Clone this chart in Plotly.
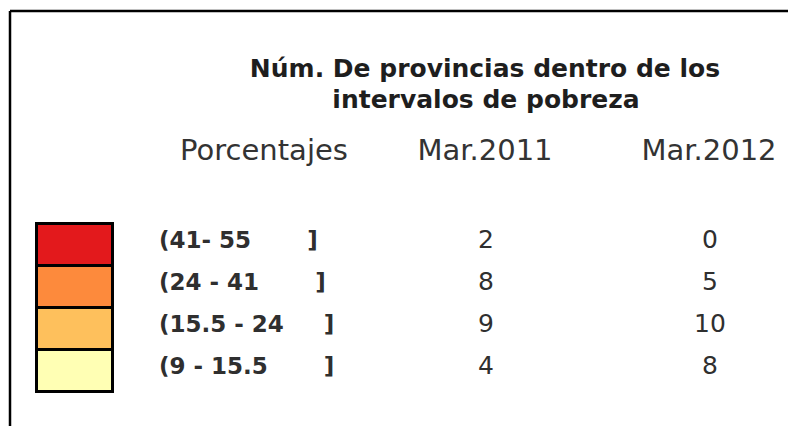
import plotly.graph_objects as go

# ---- data ----
intervals = ["(41- 55       ]", "(24 - 41       ]", "(15.5 - 24     ]", "(9 - 15.5       ]"]
mar2011 = [2, 8, 9, 4]
mar2012 = [0, 5, 10, 8]
colors = ["#E3191C", "#FD8A3C", "#FEC05C", "#FFFFB4"]
col_headers = ["Porcentajes", "Mar.2011", "Mar.2012"]
title_lines = ["Núm. De provincias dentro de los", "intervalos de pobreza"]

# ---- layout positions (page-pixel data coordinates) ----
row_y0 = 245
row_h = 42
rows_y = [row_y0 + i * row_h for i in range(len(intervals))]

txt_color = "#2f2f2f"
FONT = "DejaVu Sans"
PAGE_OFF = 8  # default body margin of the html page

fig = go.Figure()

# colour boxes
fig.add_trace(go.Bar(
    orientation="h",
    y=rows_y, x=[76] * len(rows_y), base=[37] * len(rows_y),
    width=row_h,
    marker=dict(color=colors, line=dict(color="black", width=3)),
    hoverinfo="skip", showlegend=False,
))

# interval labels
fig.add_trace(go.Scatter(
    x=[159] * len(intervals), y=[y - 3 for y in rows_y], mode="text",
    text=[f"<b>{s}</b>" for s in intervals], textposition="middle right",
    textfont=dict(family=FONT, size=23, color=txt_color),
    hoverinfo="skip", showlegend=False,
))

# values
fig.add_trace(go.Scatter(
    x=[486] * len(mar2011), y=[y - 3 for y in rows_y], mode="text",
    text=[str(v) for v in mar2011], textposition="middle center",
    textfont=dict(family=FONT, size=25, color=txt_color),
    hoverinfo="skip", showlegend=False,
))
fig.add_trace(go.Scatter(
    x=[710] * len(mar2012), y=[y - 3 for y in rows_y], mode="text",
    text=[str(v) for v in mar2012], textposition="middle center",
    textfont=dict(family=FONT, size=25, color=txt_color),
    hoverinfo="skip", showlegend=False,
))

# column headers
fig.add_trace(go.Scatter(
    x=[264, 485, 709], y=[153] * 3, mode="text",
    text=col_headers, textposition="middle center",
    textfont=dict(family=FONT, size=29, color="#333333"),
    hoverinfo="skip", showlegend=False,
))

# title
fig.add_trace(go.Scatter(
    x=[485, 486], y=[71, 102], mode="text",
    text=[f"<b>{t}</b>" for t in title_lines], textposition="middle center",
    textfont=dict(family=FONT, size=25, color="#1e1e1e"),
    hoverinfo="skip", showlegend=False,
))

# frame (top and left edges)
fig.add_shape(type="line", x0=10, x1=800, y0=11, y1=11, line=dict(color="black", width=2.5))
fig.add_shape(type="line", x0=10, x1=10, y0=11, y1=430, line=dict(color="black", width=2.5))

fig.update_layout(
    width=796 - PAGE_OFF, height=426 - PAGE_OFF,
    margin=dict(l=0, r=0, t=0, b=0),
    paper_bgcolor="white", plot_bgcolor="white",
    xaxis=dict(range=[PAGE_OFF, 796], visible=False, fixedrange=True),
    yaxis=dict(range=[426, PAGE_OFF], visible=False, fixedrange=True),
    bargap=0,
)

fig.write_html("out.html")
